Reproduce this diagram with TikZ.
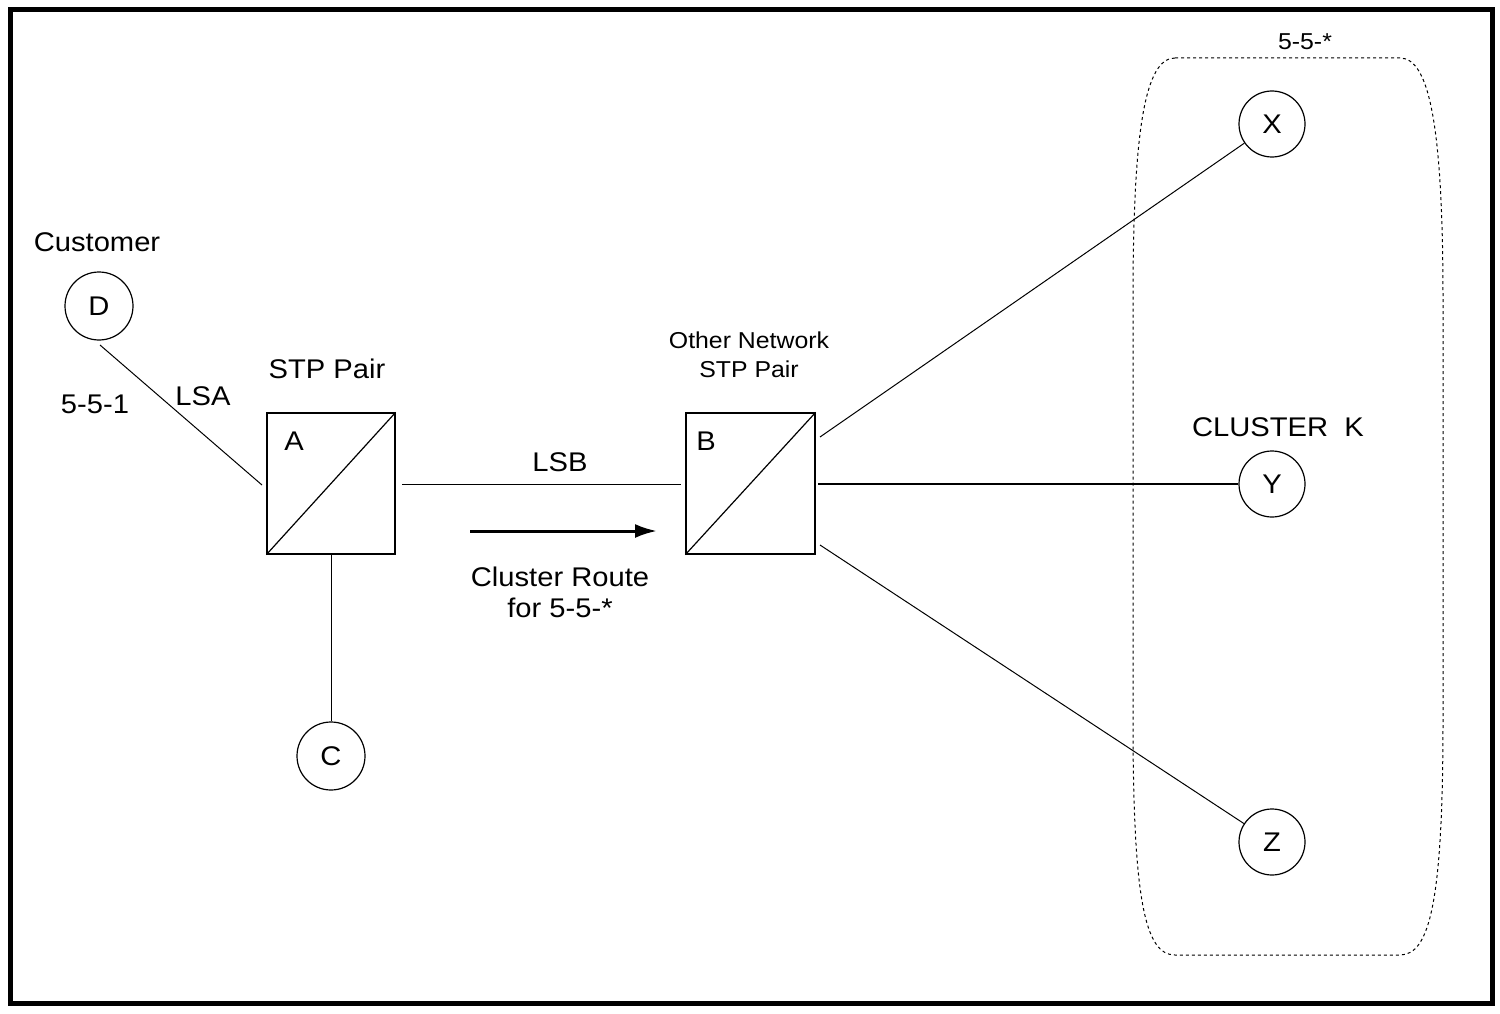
\documentclass[tikz,border=0pt]{standalone}
\usepackage{fontspec}
\setmainfont{Liberation Sans}[FakeStretch=1.08]
\usetikzlibrary{arrows.meta}
\begin{document}
\begin{tikzpicture}[x=1pt,y=-1pt,
  circ/.style={draw,circle,minimum size=68pt,inner sep=0pt,line width=1.2pt,font=\fontsize{27}{28}\selectfont},
  lbl/.style={font=\fontsize{27}{31}\selectfont,align=center,inner sep=0pt},
  small/.style={font=\fontsize{23}{29}\selectfont,align=center,inner sep=0pt},
  ln/.style={line width=1pt}]
\useasboundingbox (0,0) rectangle (1500,1014);
\draw[line width=5pt] (10,10) rectangle (1492,1003);
% cluster
\draw[dashed,line width=1pt] (1175,58) -- (1400,58)
  .. controls (1430,58) and (1443,130) .. (1443,300) -- (1443,720)
  .. controls (1443,900) and (1430,955) .. (1400,955) -- (1175,955)
  .. controls (1145,955) and (1133,900) .. (1133,720) -- (1133,300)
  .. controls (1133,130) and (1145,58) .. (1175,58);
\node[circ] (D) at (99,306) {D};
\node[circ] (C) at (331,756) {C};
\node[circ,minimum size=66pt] (X) at (1272,124) {X};
\node[circ,minimum size=66pt] (Y) at (1272,484) {Y};
\node[circ,minimum size=66pt] (Z) at (1272,842) {Z};
\node[draw,line width=1.2pt,minimum width=128pt,minimum height=141pt,inner sep=0pt] (A) at (331,483.5) {};
\draw[line width=1.2pt] (A.south west) -- (A.north east);
\node[draw,line width=1.2pt,minimum width=129pt,minimum height=141pt,inner sep=0pt] (B) at (750.5,483.5) {};
\draw[line width=1.2pt] (B.south west) -- (B.north east);
\coordinate (d1) at (100,345);
\coordinate (a1) at (262,485);
\draw[ln] (d1) -- (a1);
\coordinate (a2) at (402,484);
\coordinate (b1) at (681,484);
\draw[ln] (a2) -- (b1);
\draw[ln] (A.south) -- (C);
\coordinate (bx) at (820,437);
\coordinate (bz) at (820,545);
\coordinate (by) at (818,484);
\draw[ln] (bx) -- (X);
\draw[line width=2.5pt] (by) -- (Y);
\draw[ln] (bz) -- (Z);
\coordinate (r1) at (470,531);
\coordinate (r2) at (657,531);
\draw[line width=3pt,-{Latex[length=22pt,width=14pt]}] (r1) -- (r2);
\node[lbl] (t1) at (97,242) {Customer};
\node[lbl] (t2) at (95,404) {5-5-1};
\node[lbl] (t3) at (203,396) {LSA};
\node[lbl] (t4) at (327,369) {STP Pair};
\node[lbl] (t5) at (294,441) {A};
\node[lbl] (t6) at (560,462) {LSB};
\node[lbl] (t7) at (560,592) {Cluster Route\\for 5-5-*};
\node[small] (t8) at (749,355) {Other Network\\STP Pair};
\node[lbl] (t9) at (706,441) {B};
\node[lbl] (t10) at (1278,427) {CLUSTER\ \ K};
\node[small] (t11) at (1305,42) {5-5-*};
\end{tikzpicture}
\end{document}
